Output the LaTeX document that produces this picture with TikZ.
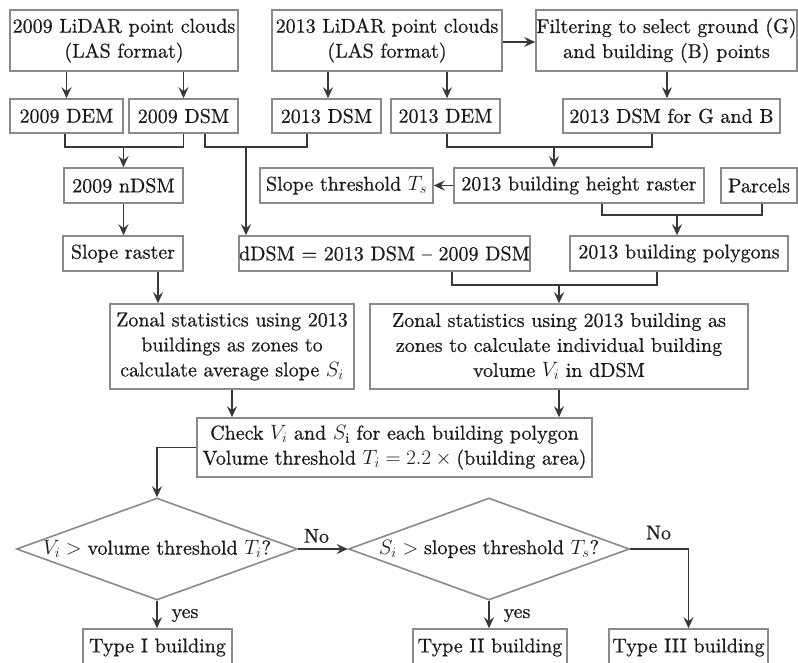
\documentclass[tikz,border=0pt]{standalone}
\usepackage{fontspec}
\setmainfont{lmroman10-regular.otf}[ItalicFont=lmroman10-italic.otf,BoldFont=lmroman10-bold.otf,FakeBold=0.6]
\usetikzlibrary{arrows.meta,shapes.geometric,calc}
\definecolor{boxc}{HTML}{8A8A8A}
\definecolor{linec}{HTML}{383838}
\definecolor{txt}{HTML}{1A1A1A}
\tikzset{
  bx/.style={draw=boxc,line width=1.6pt,inner sep=0pt,align=center,text=txt,
    font=\fontsize{20}{25}\selectfont},
  conn/.style={draw=linec,line width=1.5pt},
  arr/.style={conn,-{Stealth[length=11pt,width=10pt,inset=4pt]}},
  lbl/.style={text=txt,font=\fontsize{20}{25}\selectfont,inner sep=0pt,anchor=base},
  dia/.style={diamond,draw=boxc,line width=1.6pt,inner sep=0pt,align=center,text=txt,
    font=\fontsize{20}{25}\selectfont,shape aspect=2.76,minimum width=281pt,minimum height=102pt}
}
\begin{document}
\begin{tikzpicture}[x=1pt,y=-1pt]
\useasboundingbox (0,0) rectangle (798,663);
\clip (0,0) rectangle (798,663);
\fill[white] (0,0) rectangle (798,663);
% row 1
\node[bx,minimum width=228pt,minimum height=61pt] (l09) at (124,40.5) {2009 LiDAR point clouds\\(LAS format)};
\node[bx,minimum width=230pt,minimum height=61pt] (l13) at (387,40.5) {2013 LiDAR point clouds\\(LAS format)};
\node[bx,minimum width=261pt,minimum height=61pt] (filt) at (666.5,40.5) {Filtering to select ground (G)\\and building (B) points};
% row 2
\node[bx,minimum width=113pt,minimum height=34pt] (dem09) at (66.5,116) {2009 DEM};
\node[bx,minimum width=109pt,minimum height=34pt] (dsm09) at (183.5,116) {2009 DSM};
\node[bx,minimum width=109pt,minimum height=34pt] (dsm13) at (326.5,116) {2013 DSM};
\node[bx,minimum width=109pt,minimum height=34pt] (dem13) at (445.5,116) {2013 DEM};
\node[bx,minimum width=217pt,minimum height=34pt] (dsmgb) at (671.5,116) {2013 DSM for G and B};
% row 3
\node[bx,minimum width=119pt,minimum height=35pt] (ndsm) at (123.5,185.5) {2009 nDSM};
\node[bx,minimum width=173pt,minimum height=35pt] (slth) at (346.5,185.5) {Slope threshold $T_s$};
\node[bx,minimum width=250pt,minimum height=35pt] (hr) at (579,185.5) {2013 building height raster};
\node[bx,minimum width=76pt,minimum height=35pt] (par) at (759,185.5) {Parcels};
% row 4
\node[bx,minimum width=120pt,minimum height=35pt] (slope) at (123,253.5) {Slope raster};
\node[bx,minimum width=289pt,minimum height=35pt] (ddsm) at (384.5,253.5) {dDSM = 2013 DSM – 2009 DSM};
\node[bx,minimum width=218pt,minimum height=35pt] (poly) at (679,253.5) {2013 building polygons};
% row 5
\node[bx,minimum width=244pt,minimum height=85pt] (zl) at (232,346.5) {Zonal statistics using 2013\\buildings as zones to\\calculate average slope $S_i$};
\node[bx,minimum width=378pt,minimum height=85pt] (zr) at (559,346.5) {Zonal statistics using 2013 building as\\zones to calculate individual building\\volume $V_i$ in dDSM};
% check
\node[bx,minimum width=395pt,minimum height=59pt] (chk) at (394.5,447.5) {Check $V_i$ and $S_{\mathrm{i}}$ for each building polygon\\Volume threshold $T_i = 2.2 \times{}$(building area)};
% diamonds
\node[dia] (d1) at (157,549) {$V_i >{}$volume threshold $T_i$?};
\node[dia] (d2) at (489,549) {$S_i >{}$slopes threshold $T_s$?};
% results
\node[bx,minimum width=149pt,minimum height=37pt] (t1) at (157.5,647.5) {Type I building};
\node[bx,minimum width=154pt,minimum height=37pt] (t2) at (490,647.5) {Type II building};
\node[bx,minimum width=159pt,minimum height=37pt] (t3) at (688.5,647.5) {Type III building};
% connectors row1 -> row2
\draw[arr] (l09.south -| dem09.north) -- (dem09.north);
\draw[arr] (l09.south -| dsm09.north) -- (dsm09.north);
\draw[arr] ([xshift=1.5pt]l13.south -| dsm13.north) -- ([xshift=1.5pt]dsm13.north);
\draw[arr] ([xshift=1.5pt]l13.south -| dem13.north) -- ([xshift=1.5pt]dem13.north);
\draw[arr] ([yshift=-1.5pt]l13.east) -- ([yshift=-1.5pt]filt.west);
\draw[arr] ([xshift=-4.5pt]dsmgb.north |- filt.south) -- ([xshift=-4.5pt]dsmgb.north);
% join A
\coordinate (jA) at (123.5,147);
\draw[conn] ([xshift=-1.5pt]dem09.south) |- (jA) -| (dsm09.south);
\draw[arr] (jA) -- (ndsm.north);
% join B
\coordinate (jB) at (246,147);
\draw[conn] ([xshift=21.5pt]dsm09.south) |- (jB) -| ([xshift=-19.5pt]dsm13.south);
\draw[arr] (jB) -- (jB |- ddsm.north);
% join C
\coordinate (jC) at (554,147);
\draw[conn] ([xshift=1.5pt]dem13.south) |- (jC) -| ([xshift=-19.5pt]dsmgb.south);
\draw[arr] (jC) -- (jC |- hr.north);
% height raster -> slope threshold
\draw[arr] (hr.west) -- (slth.east);
% join D
\coordinate (jD) at (677,215);
\draw[conn] ([xshift=23pt]hr.south) |- (jD) -| ([xshift=3pt]par.south);
\draw[arr] (jD) -- (jD |- poly.north);
% ndsm -> slope
\draw[arr] (ndsm.south) -- (ndsm.south |- slope.north);
% slope -> zl
\draw[arr] ([xshift=35pt]slope.south) -- ([xshift=35pt]slope.south |- zl.north);
% join E
\coordinate (jE) at (559,285);
\draw[conn] ([xshift=67.5pt]ddsm.south) |- (jE) -| ([xshift=-22pt]poly.south);
\draw[arr] (jE) -- (zr.north);
% zonal -> check
\draw[arr] (zl.south) -- (zl.south |- chk.north);
\draw[arr] (zr.south) -- (zr.south |- chk.north);
% check -> d1
\draw[arr] (chk.west) -| (d1.north);
% d1 -> d2
\draw[arr] (d1.east) -- (d2.west);
\node[lbl] (no1) at (316.5,542.7) {No};
% d2 -> t3
\draw[arr] (d2.east) -| (t3.north);
\node[lbl] (no2) at (658.5,539.3) {No};
% yes
\draw[arr] (d1.south) -- (d1.south |- t1.north);
\node[lbl] (yes1) at (185,618) {yes};
\draw[arr] (d2.south) -- (d2.south |- t2.north);
\node[lbl] (yes2) at (517,618) {yes};
\end{tikzpicture}
\end{document}
